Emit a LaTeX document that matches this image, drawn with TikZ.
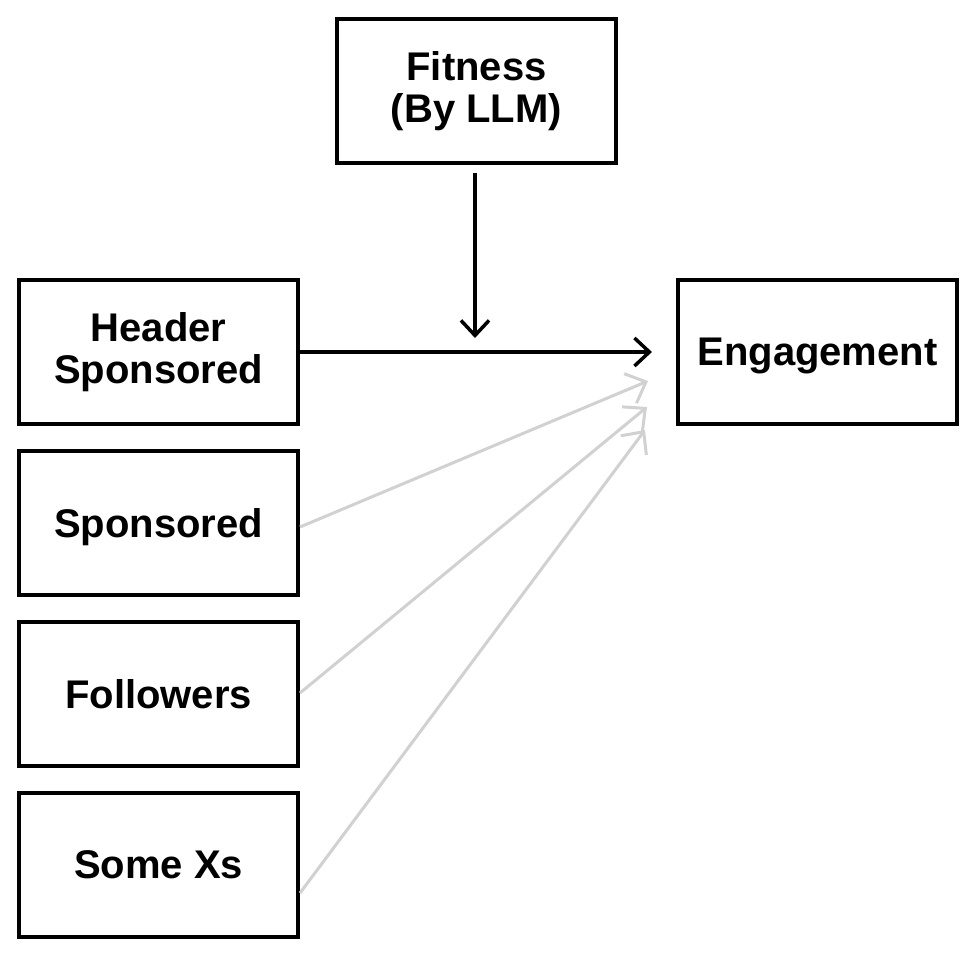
\documentclass[tikz,border=0pt]{standalone}
\usepackage{fontspec}
\setmainfont{Liberation Sans}
\usetikzlibrary{arrows.meta,positioning}
\tikzset{
  box/.style={draw, line width=4pt, minimum width=279pt, minimum height=144pt,
    inner sep=0pt, align=center, font=\fontsize{40}{42}\selectfont\bfseries},
  flat/.style={text depth=0pt},
  link/.style={line width=3.5pt, -{Straight Barb[length=15pt,width=28pt]}},
  faint/.style={draw=black!18, line width=3pt, -{Straight Barb[length=17pt,width=32pt]}},
}
\begin{document}
\begin{tikzpicture}[x=1pt,y=-1pt]
    \useasboundingbox (0,0) rectangle (976,952);
    % boxes
    \node[box] (fit) at (476.5,91.5) {Fitness\\(By LLM)};
    \node[box] (head) at (158.5,352) {Header\\Sponsored};
    \node[box, flat, below=23pt of head] (spon) {Sponsored};
    \node[box, flat, below=23pt of spon] (foll) {Followers};
    \node[box, flat, below=23pt of foll] (xs) {Some Xs};
    \node[box, flat, right=376pt of head] (eng) {Engagement};
    % free ends near the outcome
    \coordinate (tip0) at (652,352);
    \coordinate (tip1) at (648,381);
    \coordinate (tip2) at (647,407);
    \coordinate (tip3) at (645,430);
    \coordinate (mod) at (475,338);
    % moderator and main effect
    \draw[link, shorten <=8pt] (fit.south -| mod) -- (mod);
    \draw[link] (head.east) -- (tip0);
    % other covariates
    \draw[faint] ([yshift=-4pt]spon.east) -- (tip1);
    \draw[faint] ([yshift=1pt]foll.east) -- (tip2);
    \draw[faint] ([yshift=-28pt]xs.east) -- (tip3);
\end{tikzpicture}
\end{document}
